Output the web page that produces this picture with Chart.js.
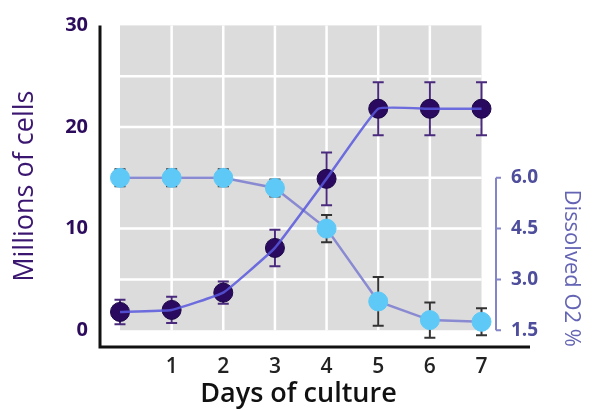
<!DOCTYPE html>
<html>
<head>
<meta charset="utf-8">
<script src="https://cdn.jsdelivr.net/npm/chart.js@4.4.1/dist/chart.umd.min.js"></script>
<style>
    html, body { margin: 0; padding: 0; background: #fff; }
    #wrap { width: 595px; height: 410px; }
</style>
</head>
<body>
<div id="wrap"><canvas id="chart" width="595" height="410"></canvas></div>
<script>
// Values
const days = [0, 1, 2, 3, 4, 5, 6, 7];
const cells = [1.8, 2.0, 3.7, 8.1, 14.9, 21.8, 21.8, 21.8];
const cellsErr = [1.2, 1.3, 1.1, 1.8, 2.6, 2.6, 2.6, 2.6];
const oxygen = [6.0, 6.0, 6.0, 5.7, 4.5, 2.35, 1.8, 1.75];
const oxygenErr = [0.25, 0.25, 0.25, 0.25, 0.4, 0.72, 0.52, 0.4];
const cellTicks = [0, 10, 20, 30];
const oxygenTicks = [1.5, 3.0, 4.5, 6.0];
const dayTicks = [1, 2, 3, 4, 5, 6, 7];
const gridCells = [5, 10, 15, 20, 25];
const gridDays = [1, 2, 3, 4, 5, 6];

// right axis lines up with the left one: 1.5 at 0 cells, +1.5 per 5 cells
const cellMin = -1.65, cellMax = 30;
const o2Min = 1.5 + cellMin * 0.3, o2Max = 1.5 + cellMax * 0.3;

const FONT = "'Open Sans', 'DejaVu Sans', sans-serif";
const cellPoints = days.map((d, i) => ({ x: d, y: cells[i] }));
const oxygenPoints = days.map((d, i) => ({ x: d, y: oxygen[i] }));

const panelPlugin = {
    id: 'panel',
    beforeDatasetsDraw(chart) {
        const { ctx, scales: { x, y, y2 } } = chart;
        const l = x.getPixelForValue(0), r = x.getPixelForValue(7);
        const t = y.getPixelForValue(30), b = y.getPixelForValue(0);
        ctx.save();
        ctx.fillStyle = '#dcdcdc';
        ctx.fillRect(l, t, r - l, b - t);
        ctx.strokeStyle = '#ffffff';
        ctx.lineWidth = 2.5;
        ctx.beginPath();
        gridDays.forEach(d => {
            const px = x.getPixelForValue(d);
            ctx.moveTo(px, t); ctx.lineTo(px, b);
        });
        gridCells.forEach(v => {
            const py = y.getPixelForValue(v);
            ctx.moveTo(l, py); ctx.lineTo(r, py);
        });
        ctx.stroke();

        // error bars, under the markers
        const drawErr = (vals, errs, scale, color) => {
            ctx.strokeStyle = color;
            ctx.lineWidth = 2;
            ctx.beginPath();
            vals.forEach((v, i) => {
                const px = x.getPixelForValue(days[i]);
                const y1 = scale.getPixelForValue(v + errs[i]);
                const y0 = scale.getPixelForValue(v - errs[i]);
                ctx.moveTo(px, y1); ctx.lineTo(px, y0);
                ctx.moveTo(px - 5.5, y1); ctx.lineTo(px + 5.5, y1);
                ctx.moveTo(px - 5.5, y0); ctx.lineTo(px + 5.5, y0);
            });
            ctx.stroke();
        };
        drawErr(oxygen, oxygenErr, y2, '#333333');
        drawErr(cells, cellsErr, y, '#4a2a7c');
        ctx.restore();
    },
    afterDraw(chart) {
        const { ctx, chartArea, scales: { y2 } } = chart;
        ctx.save();
        // main axes
        ctx.strokeStyle = '#111111';
        ctx.lineWidth = 3;
        ctx.beginPath();
        ctx.moveTo(chartArea.left, chartArea.top);
        ctx.lineTo(chartArea.left, chartArea.bottom);
        ctx.lineTo(chartArea.right + 33, chartArea.bottom);
        ctx.stroke();
        // right bracket axis
        const bx = chartArea.right - 1;
        const yt = y2.getPixelForValue(6.0), yb = y2.getPixelForValue(1.5);
        ctx.strokeStyle = '#8484c8';
        ctx.lineWidth = 2;
        ctx.beginPath();
        ctx.moveTo(bx, yt); ctx.lineTo(bx, yb);
        oxygenTicks.forEach(v => {
            const py = y2.getPixelForValue(v);
            ctx.moveTo(bx, py); ctx.lineTo(bx + 5, py);
        });
        ctx.stroke();
        ctx.restore();
    }
};

new Chart(document.getElementById('chart'), {
    type: 'line',
    data: {
        datasets: [
            // cells line sits on top of its own markers
            {
                label: 'Millions of cells',
                data: cellPoints,
                yAxisID: 'y',
                borderColor: 'rgba(88, 88, 222, 0.85)',
                borderWidth: 2.5,
                tension: 0.1,
                pointRadius: 0
            },
            {
                label: 'Millions of cells (points)',
                data: cellPoints,
                yAxisID: 'y',
                showLine: false,
                pointRadius: 9.5,
                pointBackgroundColor: '#2a0a5e',
                pointBorderColor: '#1c0648',
                pointBorderWidth: 1
            },
            {
                label: 'Dissolved O2 %',
                data: oxygenPoints,
                yAxisID: 'y2',
                borderColor: '#8a8ad2',
                borderWidth: 2.5,
                tension: 0,
                pointRadius: 9.5,
                pointBackgroundColor: '#5ec9f7',
                pointBorderColor: '#5ec9f7',
                pointBorderWidth: 1
            }
        ]
    },
    options: {
        responsive: false,
        animation: false,
        devicePixelRatio: 1,
        layout: { padding: { top: 22, left: 0, right: 0, bottom: 0 } },
        plugins: {
            legend: { display: false },
            tooltip: { enabled: false }
        },
        scales: {
            x: {
                type: 'linear',
                min: -0.387,
                max: 7.3,
                grid: { display: false, drawTicks: false },
                border: { display: false },
                afterBuildTicks: s => { s.ticks = dayTicks.map(v => ({ value: v })); },
                afterFit: s => { s.height = 63; },
                ticks: {
                    padding: 7,
                    color: '#222222',
                    font: { family: FONT, size: 21, weight: '600' }
                },
                title: {
                    display: true,
                    text: 'Days of culture',
                    color: '#111111',
                    padding: { top: 0, bottom: -1 },
                    font: { family: FONT, size: 27, weight: '600' }
                }
            },
            y: {
                position: 'left',
                min: cellMin,
                max: cellMax,
                grid: { display: false, drawTicks: false },
                border: { display: false },
                afterBuildTicks: s => { s.ticks = cellTicks.map(v => ({ value: v })); },
                afterFit: s => { s.width = 100; },
                ticks: {
                    padding: 12,
                    color: '#2d0b5c',
                    font: { family: FONT, size: 20, weight: 'bold' }
                },
                title: {
                    display: true,
                    text: 'Millions of cells',
                    color: '#3b1670',
                    padding: { top: 9, bottom: 0 },
                    font: { family: FONT, size: 27 }
                }
            },
            y2: {
                position: 'right',
                min: o2Min,
                max: o2Max,
                grid: { display: false, drawTicks: false },
                border: { display: false },
                afterBuildTicks: s => { s.ticks = oxygenTicks.map(v => ({ value: v })); },
                afterFit: s => { s.width = 98; },
                ticks: {
                    padding: 14,
                    color: '#4e4e9c',
                    font: { family: FONT, size: 19, weight: 'bold' },
                    callback: v => v.toFixed(1)
                },
                title: {
                    display: true,
                    text: 'Dissolved O2 %',
                    align: 'start',
                    color: '#6464b4',
                    padding: { top: 11, bottom: 0 },
                    font: { family: FONT, size: 22 }
                }
            }
        }
    },
    plugins: [panelPlugin]
});
</script>
</body>
</html>
